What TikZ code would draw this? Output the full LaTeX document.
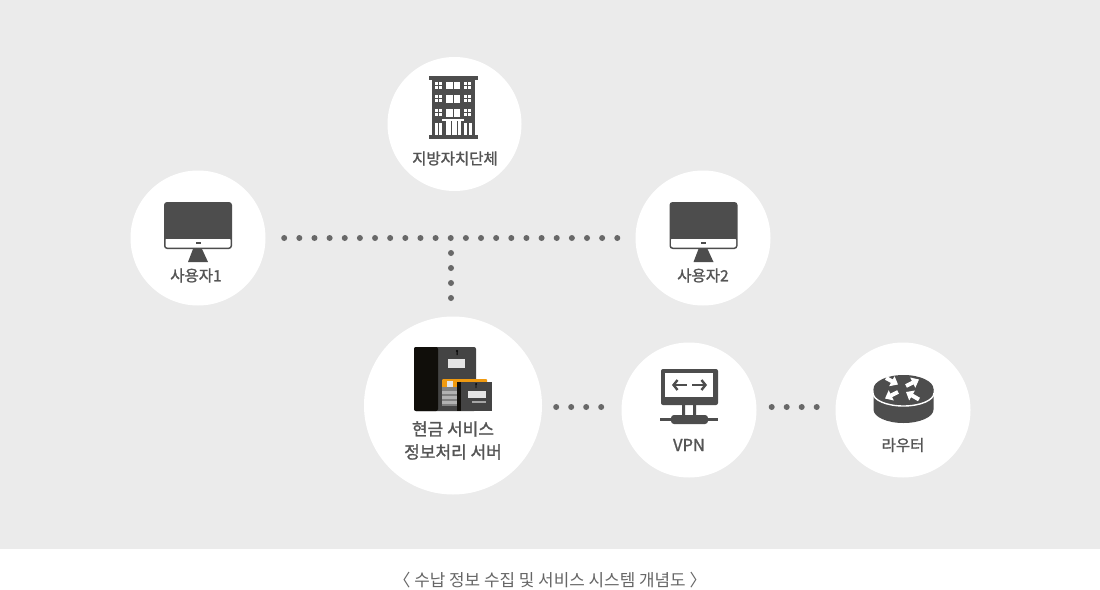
\documentclass[tikz,border=0pt]{standalone}
\usepackage{fontspec}
\setmainfont{Noto Sans CJK KR}
\newfontfamily\labelfont[FakeBold=1.4]{Noto Sans CJK KR}
\usetikzlibrary{arrows.meta}
\definecolor{paneGray}{HTML}{EBEBEB}
\definecolor{iconGray}{HTML}{4D4D4D}
\definecolor{textGray}{HTML}{555555}
\definecolor{capGray}{HTML}{666666}
\definecolor{boxBlack}{HTML}{100E0A}
\definecolor{boxGray}{HTML}{444444}
\definecolor{folderOrange}{HTML}{F09A10}
\tikzset{
  disc/.style={circle,fill=white,inner sep=0pt,minimum size=#1},
  tag/.style={font=\labelfont\fontsize{15.5}{23}\selectfont,text=textGray,align=center,inner sep=0pt},
  dotline/.style={line width=6pt,line cap=round,dash pattern=on 0pt off #1,draw=iconGray!85!white},
  wicket/.style={-{Triangle[length=7pt,width=11pt]},line width=4pt,white}
}
\newcommand{\monitoricon}{
  \fill[iconGray,rounded corners=3pt] (164,202) rectangle (232,249);
  \fill[white,rounded corners=2pt] (165.5,238) rectangle (230.5,247.5);
  \fill[iconGray] (165,237) rectangle (231,238.5);
  \fill[iconGray] (195.5,242) rectangle (200.5,243.5);
  \fill[iconGray] (193,249) -- (202,249) -- (208,262) -- (188,262) -- cycle;
}
\begin{document}
\begin{tikzpicture}[x=1pt,y=-1pt]
  \useasboundingbox (0,0) rectangle (1100,589);
  \fill[paneGray] (0,0) rectangle (1100,549);
  % discs
  \node[disc=134pt] (town) at (454.5,124) {};
  \node[disc=135pt] (user1) at (198,238) {};
  \node[disc=135pt] (user2) at (703,238) {};
  \node[disc=178pt] (server) at (453,405.5) {};
  \node[disc=135pt] (vpn) at (689,410) {};
  \node[disc=135pt] (router) at (903,410) {};
  \coordinate (fork) at (451,238);
  \coordinate (lane) at (0,407);
  % dotted links
  \draw[dotline=15.14pt,shorten <=18.5pt,shorten >=17pt] (user1) -- (user2);
  \draw[dotline=15pt,shorten <=15pt,shorten >=16pt] (fork) -- (fork |- server.north);
  \draw[dotline=15pt,shorten <=14pt,shorten >=15pt] (lane -| server.east) -- (lane -| vpn.west);
  \draw[dotline=15pt,shorten <=15pt,shorten >=15pt] (lane -| vpn.east) -- (lane -| router.west);
  % building
  \fill[iconGray] (432,79) rectangle (475,135);
  \fill[iconGray] (429,76) rectangle (478,79.5);
  \fill[iconGray] (429,135) rectangle (478,138.5);
  \foreach \row in {81.5,95,109} {
    \foreach \col in {435,439,464,468}
      \foreach \sub in {0,4}
        \fill[white] (\col,\row+\sub) rectangle ++(3.3,3.3);
    \fill[white] (446,\row) rectangle ++(6.5,7.5);
    \fill[white] (453.5,\row) rectangle ++(6.5,7.5);
  }
  \fill[white] (442,119) rectangle (463.5,121);
  \foreach \col in {435,439,464,468.5}
    \fill[white] (\col,123) rectangle ++(3.2,12);
  \fill[white] (445.5,121) rectangle (450.5,135);
  \fill[white] (452,121) rectangle (456.5,135);
  \fill[white] (457.5,121) rectangle (461,135);
  \node[tag] (townlabel) at (455,158.5) {지방자치단체};
  % monitors
  \monitoricon
  \node[tag] (user1label) at (196,275.5) {사용자1};
  \begin{scope}[shift={(505.5,0)}]
    \monitoricon
  \end{scope}
  \node[tag] (user2label) at (703,275.5) {사용자2};
  % cabinets
  \fill[boxGray,rounded corners=2pt] (414,347) rectangle (476,411);
  \fill[boxBlack,rounded corners=2pt] (414,347) rectangle (438,411);
  \fill[boxBlack] (432,347) rectangle (437,411);
  \fill[white!90!black] (448,359) rectangle (465,368);
  \fill[black] (457,351) circle (1.2pt) (456.5,351) rectangle (457.5,355);
  \fill[folderOrange,rounded corners=1pt] (442,379) rectangle (487,388);
  \fill[white!90!black] (447,381) rectangle (453,387);
  \fill[gray] (442,387) rectangle (458,406);
  \foreach \row in {391,396,401}
    \fill[gray!60!white] (442,\row) rectangle (458,\row+2.5);
  \fill[boxGray] (457,382) rectangle (492,411);
  \fill[boxBlack] (457,382) rectangle (461,411);
  \fill[white!90!black] (468,391) rectangle (486,398);
  \fill[gray!70] (472,401) rectangle (486,403);
  \fill[black] (476,384) circle (1pt) (475.6,384) rectangle (476.4,388);
  \node[tag,font=\labelfont\fontsize{17}{23}\selectfont] (serverlabel) at (453,440.5) {현금 서비스\\정보처리 서버};
  % vpn
  \fill[iconGray,rounded corners=2pt] (661,369) rectangle (718,405);
  \fill[white] (665,373) rectangle (713,397);
  \draw[iconGray,line width=2.4pt,{Straight Barb[length=4pt,width=10pt]}-] (672,385) -- (687,385);
  \draw[iconGray,line width=2.4pt,-{Straight Barb[length=4pt,width=10pt]}] (692,385) -- (707,385);
  \fill[iconGray] (682,405) rectangle (685,416) (693,405) rectangle (696,416);
  \fill[iconGray] (660,417.5) rectangle (718,420.5);
  \fill[iconGray,rounded corners=3pt] (671,415) rectangle (708,424);
  \node[tag,font=\labelfont\fontsize{16.5}{20}\selectfont] (vpnlabel) at (689,445) {VPN};
  % router
  \fill[iconGray] (873.5,389) -- (873.5,409.5) arc[start angle=180,end angle=0,x radius=30,y radius=13.5] -- (933.5,389) -- cycle;
  \draw[white,line width=1.4pt] (873,393) arc[start angle=180,end angle=0,x radius=30.5,y radius=13];
  \fill[iconGray] (903.5,389) ellipse[x radius=30,y radius=14];
  \draw[wicket] (886,378) -- (898,384.5);
  \draw[wicket] (906,386) -- (919,379.5);
  \draw[wicket] (898,392) -- (885,398.5);
  \draw[wicket] (919,399.5) -- (906,392);
  \node[tag] (routerlabel) at (903,445) {라우터};
  % caption
  \node[font=\fontsize{16.9}{20}\selectfont,text=capGray,inner sep=0pt] (caption) at (550,580.5) {〈 수납 정보 수집 및 서비스 시스템 개념도 〉};
\end{tikzpicture}
\end{document}
